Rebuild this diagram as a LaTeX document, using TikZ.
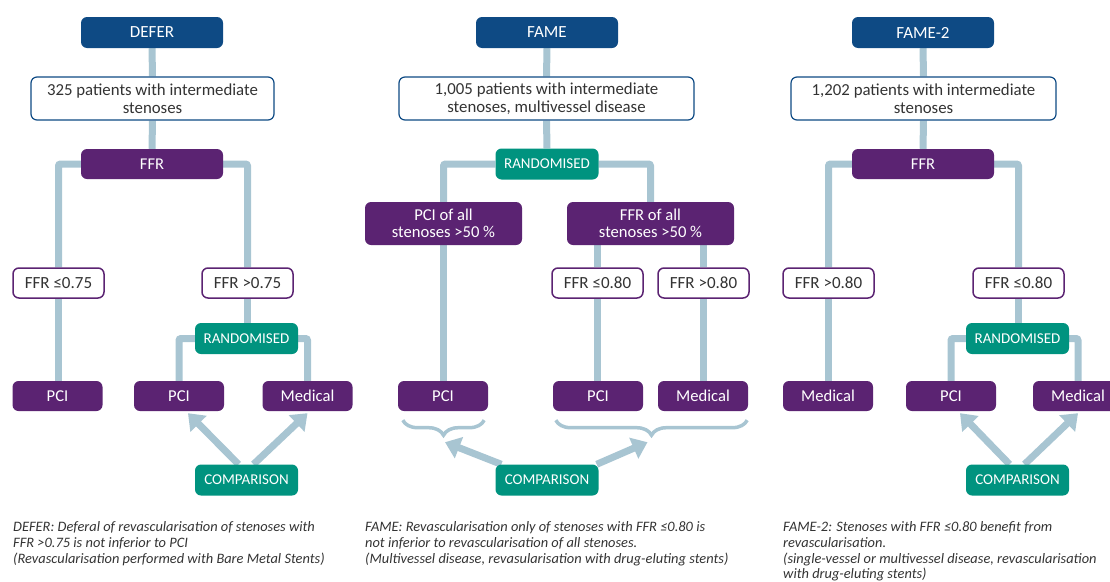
\documentclass[tikz,border=0pt]{standalone}
\usepackage{fontspec}
\setmainfont{Carlito}
\usetikzlibrary{arrows.meta,decorations.pathreplacing,backgrounds,calc}

\definecolor{navy}{HTML}{0E4A84}
\definecolor{plum}{HTML}{5B2372}
\definecolor{teal2}{HTML}{00937F}
\definecolor{linkblue}{HTML}{A8C5D2}
\definecolor{txtgray}{HTML}{333333}

\tikzset{
  box/.style={rounded corners=6pt, inner sep=0pt, align=center},
  head/.style={box, fill=navy, text=white, minimum width=142pt, minimum height=31pt,
    font=\fontsize{17}{19}\selectfont},
  pat/.style={box, draw=navy, line width=1.2pt, fill=white, text=txtgray, minimum height=43pt,
    font=\fontsize{16.8}{17.5}\selectfont},
  ffrbox/.style={box, fill=plum, text=white, minimum width=142pt, minimum height=30pt,
    font=\fontsize{16.5}{18}\selectfont},
  cut/.style={box, draw=plum, line width=1.5pt, fill=white, text=txtgray, minimum width=91pt,
    minimum height=30pt, font=\fontsize{17}{18}\selectfont},
  arm/.style={box, fill=plum, text=white, minimum width=90pt, minimum height=30pt,
    font=\fontsize{16.6}{17.5}\selectfont},
  rnd/.style={box, fill=teal2, text=white, minimum width=103pt, minimum height=31pt,
    font=\fontsize{15}{17}\selectfont},
  link/.style={draw=linkblue, line width=7pt, rounded corners=2pt},
  cmp/.style={draw=linkblue, line width=7pt, -{Triangle[length=15pt,width=22pt]}},
  brc/.style={draw=linkblue, line width=3.5pt, decorate,
    decoration={brace, mirror, amplitude=15pt}},
  note/.style={anchor=north west, align=left, inner sep=0pt, text=txtgray,
    font=\fontsize{14.4}{15.7}\selectfont\itshape}
}

\begin{document}
\begin{tikzpicture}[x=1pt, y=-1pt]
    \useasboundingbox (0,0) rectangle (1110,581);

    % DEFER
    \node[head] (hdA) at (152,32.5) {DEFER};
    \node[pat, minimum width=243pt] (patA) at (152.5,98.5) {325 patients with intermediate\\stenoses};
    \node[ffrbox] (ffrA) at (152,164) {FFR};
    \node[cut] (ltA) at (58.5,283) {FFR ≤0.75};
    \node[cut] (gtA) at (247.5,283) {FFR >0.75};
    \node[arm] (pcA1) at (57.5,396) {PCI};
    \node[rnd] (rndA) at (246.5,338.5) {RANDOMISED};
    \node[arm] (pcA2) at (179,396) {PCI};
    \node[arm] (mdA) at (307.5,396) {Medical};
    \node[rnd] (cmpA) at (246.5,480) {COMPARISON};
    \node[note] (noteA) at (13,521.5) {DEFER: Deferal of revascularisation of stenoses with\\FFR >0.75 is not inferior to PCI\\(Revascularisation performed with Bare Metal Stents)};

    % FAME
    \node[head] (hdB) at (547,32.5) {FAME};
    \node[pat, minimum width=295pt] (patB) at (546.5,98.5) {1,005 patients with intermediate\\stenoses, multivessel disease};
    \node[rnd] (rndB) at (547,164) {RANDOMISED};
    \node[arm, minimum width=157pt, minimum height=43pt] (allB1) at (443.5,223.5) {PCI of all\\stenoses >50 \%};
    \node[arm, minimum width=167pt, minimum height=43pt] (allB2) at (650.5,223.5) {FFR of all\\stenoses >50 \%};
    \node[cut] (ltB) at (597.5,283) {FFR ≤0.80};
    \node[cut] (gtB) at (703.5,283) {FFR >0.80};
    \node[arm] (pcB1) at (443,396) {PCI};
    \node[arm] (pcB2) at (598,396) {PCI};
    \node[arm] (mdB) at (703,396) {Medical};
    \node[rnd] (cmpB) at (547,480) {COMPARISON};
    \node[note] (noteB) at (365,521.5) {FAME: Revascularisation only of stenoses with FFR ≤0.80 is\\not inferior to revascularisation of all stenoses.\\(Multivessel disease, revasularisation with drug-eluting stents)};

    % FAME-2
    \node[head] (hdC) at (923,32.5) {FAME-2};
    \node[pat, minimum width=265pt] (patC) at (923.5,98.5) {1,202 patients with intermediate\\stenoses};
    \node[ffrbox] (ffrC) at (923,164) {FFR};
    \node[cut] (gtC) at (828.5,283) {FFR >0.80};
    \node[cut] (ltC) at (1018.5,283) {FFR ≤0.80};
    \node[arm] (mdC1) at (828,396) {Medical};
    \node[rnd] (rndC) at (1017.5,338.5) {RANDOMISED};
    \node[arm] (pcC) at (951,396) {PCI};
    \node[arm] (mdC2) at (1078,396) {Medical};
    \node[rnd] (cmpC) at (1017.5,480) {COMPARISON};
    \node[note] (noteC) at (783,521.5) {FAME-2: Stenoses with FFR ≤0.80 benefit from\\revascularisation.\\(single-vessel or multivessel disease, revascularisation\\with drug-eluting stents)};

    % Brace tips
    \coordinate (tipB1) at ([yshift=-27pt]pcB1.south);
    \coordinate (tipB2) at ($(pcB2.south west)!0.5!(mdB.south east) + (0,27)$);

    \begin{scope}[on background layer]
        % DEFER links
        \draw[link] (hdA.south) -- (patA.north);
        \draw[link] (patA.south) -- (ffrA.north);
        \draw[link] (ffrA.west) -| (ltA.north);
        \draw[link] (ffrA.east) -| (gtA.north);
        \draw[link] (ltA.south) -- (ltA.south |- pcA1.north);
        \draw[link] (gtA.south) -- (gtA.south |- rndA.north);
        \draw[link] (rndA.west) -| (pcA2.north);
        \draw[link] (rndA.east) -| (mdA.north);
        \draw[cmp] ([xshift=-8pt]cmpA.north) -- ([xshift=9pt,yshift=-2pt]pcA2.south);
        \draw[cmp] ([xshift=7pt]cmpA.north) -- ([yshift=-2pt]mdA.south);

        % FAME links
        \draw[link] (hdB.south) -- (patB.north);
        \draw[link] (patB.south) -- (rndB.north);
        \draw[link] (rndB.west) -| (allB1.north);
        \draw[link] (rndB.east) -| (allB2.north);
        \draw[link] (allB2.south -| ltB.north) -- (ltB.north);
        \draw[link] (allB2.south -| gtB.north) -- (gtB.north);
        \draw[link] (allB1.south) -- (allB1.south |- pcB1.north);
        \draw[link] (ltB.south) -- (ltB.south |- pcB2.north);
        \draw[link] (gtB.south) -- (gtB.south |- mdB.north);
        \draw[brc] ([xshift=5pt,yshift=-9pt]pcB1.south west) -- ([xshift=-4pt,yshift=-9pt]pcB1.south east);
        \draw[brc] ([xshift=3pt,yshift=-9pt]pcB2.south west) -- ([xshift=-1pt,yshift=-9pt]mdB.south east);
        \draw[cmp] ([xshift=6pt]cmpB.north west) -- ([xshift=2pt,yshift=-4pt]tipB1);
        \draw[cmp] ([xshift=-2pt]cmpB.north east) -- ([xshift=-3pt,yshift=-4pt]tipB2);

        % FAME-2 links
        \draw[link] (hdC.south) -- (patC.north);
        \draw[link] (patC.south) -- (ffrC.north);
        \draw[link] (ffrC.west) -| (gtC.north);
        \draw[link] (ffrC.east) -| (ltC.north);
        \draw[link] (gtC.south) -- (gtC.south |- mdC1.north);
        \draw[link] (ltC.south) -- (ltC.south |- rndC.north);
        \draw[link] (rndC.west) -| (pcC.north);
        \draw[link] (rndC.east) -| (mdC2.north);
        \draw[cmp] ([xshift=-8pt]cmpC.north) -- ([xshift=9pt,yshift=-2pt]pcC.south);
        \draw[cmp] ([xshift=7pt]cmpC.north) -- ([yshift=-2pt]mdC2.south);
    \end{scope}
\end{tikzpicture}
\end{document}
